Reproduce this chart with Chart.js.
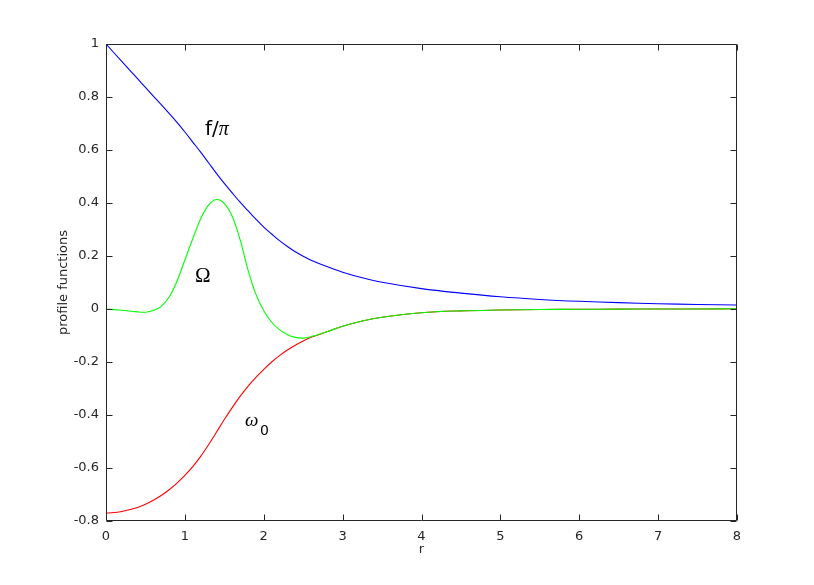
<!DOCTYPE html>
<html>
<head>
<meta charset="utf-8">
<script src="https://cdn.jsdelivr.net/npm/chart.js@4/dist/chart.umd.min.js"></script>
<style>
html,body{margin:0;padding:0;background:#fff;}
#wrap{width:814px;height:585px;}
</style>
</head>
<body>
<div id="wrap"><canvas id="c" width="814" height="585"></canvas></div>
<script>
// ---- data ----
const rValues = [0,0.2,0.4,0.5,0.6,0.7,0.8,0.9,1.0,1.1,1.2,1.3,1.4,1.5,1.6,1.7,1.8,1.9,2.0,2.1,2.2,2.3,2.4,2.5,2.6,2.8,3.0,3.25,3.5,4,4.5,5,5.5,6,6.5,7,7.5,8];
const fOverPi = [1.0,0.934,0.869,0.836,0.803,0.771,0.738,0.704,0.668,0.630,0.592,0.552,0.512,0.474,0.438,0.403,0.371,0.339,0.309,0.283,0.258,0.236,0.216,0.199,0.184,0.16,0.139,0.118,0.101,0.077,0.06,0.046,0.036,0.029,0.024,0.02,0.017,0.015];
const omegaBig = [0,-0.005,-0.011,-0.012,-0.006,0.01,0.045,0.105,0.185,0.265,0.34,0.392,0.413,0.398,0.35,0.262,0.148,0.056,-0.007,-0.05,-0.078,-0.097,-0.107,-0.11,-0.105,-0.086,-0.065,-0.045,-0.031,-0.014,-0.007,-0.004,-0.002,-0.001,-0.0005,0,0,0.001];
const omega0 = [-0.771,-0.764,-0.749,-0.737,-0.722,-0.704,-0.682,-0.657,-0.628,-0.595,-0.556,-0.512,-0.465,-0.417,-0.372,-0.330,-0.292,-0.258,-0.228,-0.2,-0.176,-0.155,-0.137,-0.121,-0.107,-0.086,-0.065,-0.045,-0.031,-0.014,-0.007,-0.004,-0.002,-0.001,-0.0005,0,0,0.001];
const xTicks = [0,1,2,3,4,5,6,7,8];
const yTicks = [-0.8,-0.6,-0.4,-0.2,0,0.2,0.4,0.6,0.8,1];
const xTitle = 'r';
const yTitle = 'profile functions';

// annotation texts (placed in data coordinates)
const annotations = [
  {parts:[{t:'f/',font:'20px "DejaVu Sans"'},{t:'π',font:'italic 20px "Liberation Serif"'}], r:1.255, v:0.657},
  {parts:[{t:'Ω',font:'21px "Liberation Serif"'}], r:1.128, v:0.102},
  {parts:[{t:'ω',font:'italic 19px "Liberation Serif"'}], r:1.762, v:-0.4415},
  {parts:[{t:'0',font:'14px "DejaVu Sans"'}], r:1.952, v:-0.4755}
];

const AX = '#262626';
const toXY = arr => rValues.map((r,i)=>({x:r,y:arr[i]}));

const whiteBg = {
  id:'whiteBg',
  beforeDraw(chart){const c=chart.ctx;c.save();c.fillStyle='#fff';c.fillRect(0,0,chart.width,chart.height);c.restore();}
};

const boxTicks = {
  id:'boxTicks',
  afterDatasetsDraw(chart){
    const c=chart.ctx, a=chart.chartArea, xs=chart.scales.x, ys=chart.scales.y;
    c.save();
    c.strokeStyle=AX; c.lineWidth=1;
    const L=Math.round(a.left)+0.5, R=Math.round(a.right)-0.5, T=Math.round(a.top)+0.5, B=Math.round(a.bottom)-0.5;
    c.beginPath();
    c.rect(L,T,R-L,B-T);
    const len=6;
    xs.ticks.forEach(t=>{
      const px=Math.round(xs.getPixelForValue(t.value))+0.5;
      c.moveTo(px,B); c.lineTo(px,B-len);
      c.moveTo(px,T); c.lineTo(px,T+len);
    });
    ys.ticks.forEach(t=>{
      const py=Math.round(ys.getPixelForValue(t.value))+0.5;
      c.moveTo(L,py); c.lineTo(L+len,py);
      c.moveTo(R,py); c.lineTo(R-len,py);
    });
    c.stroke();
    // annotations
    c.fillStyle='#000'; c.textBaseline='alphabetic'; c.textAlign='left';
    annotations.forEach(an=>{
      let x=xs.getPixelForValue(an.r); const y=ys.getPixelForValue(an.v);
      an.parts.forEach(p=>{c.font=p.font; c.fillText(p.t,x,y); x+=c.measureText(p.t).width;});
    });
    c.restore();
  }
};

new Chart(document.getElementById('c'),{
  type:'line',
  data:{
    datasets:[
      {label:'Ω', data:toXY(omegaBig), borderColor:'#00ff00'},
      {label:'ω0', data:toXY(omega0), borderColor:'#ff0000'},
      {label:'f/π', data:toXY(fOverPi), borderColor:'#0000ff'}
    ]
  },
  options:{
    responsive:false,
    animation:false,
    events:[],
    layout:{padding:{top:44,right:77,left:0,bottom:0}},
    elements:{
      line:{borderWidth:1.1,tension:0.35,fill:false},
      point:{radius:0}
    },
    plugins:{legend:{display:false},tooltip:{enabled:false}},
    scales:{
      x:{
        type:'linear', min:0, max:8,
        afterFit(s){s.height=64;},
        afterBuildTicks(s){s.ticks=xTicks.map(v=>({value:v}));},
        grid:{display:false,drawTicks:false},
        border:{display:false},
        ticks:{color:AX,padding:8,maxRotation:0,font:{family:'DejaVu Sans',size:13},callback:v=>String(v)},
        title:{display:true,text:xTitle,color:AX,font:{family:'DejaVu Sans',size:13},padding:{top:0,bottom:28}}
      },
      y:{
        type:'linear', min:-0.8, max:1,
        afterFit(s){s.width=106;},
        afterBuildTicks(s){s.ticks=yTicks.map(v=>({value:v}));},
        grid:{display:false,drawTicks:false},
        border:{display:false},
        ticks:{color:AX,padding:7,font:{family:'DejaVu Sans',size:13},callback:v=>String(Math.round(v*10)/10)},
        title:{display:true,text:yTitle,color:AX,font:{family:'DejaVu Sans',size:13},padding:{top:56,bottom:0}}
      }
    }
  },
  plugins:[whiteBg,boxTicks]
});
</script>
</body>
</html>
